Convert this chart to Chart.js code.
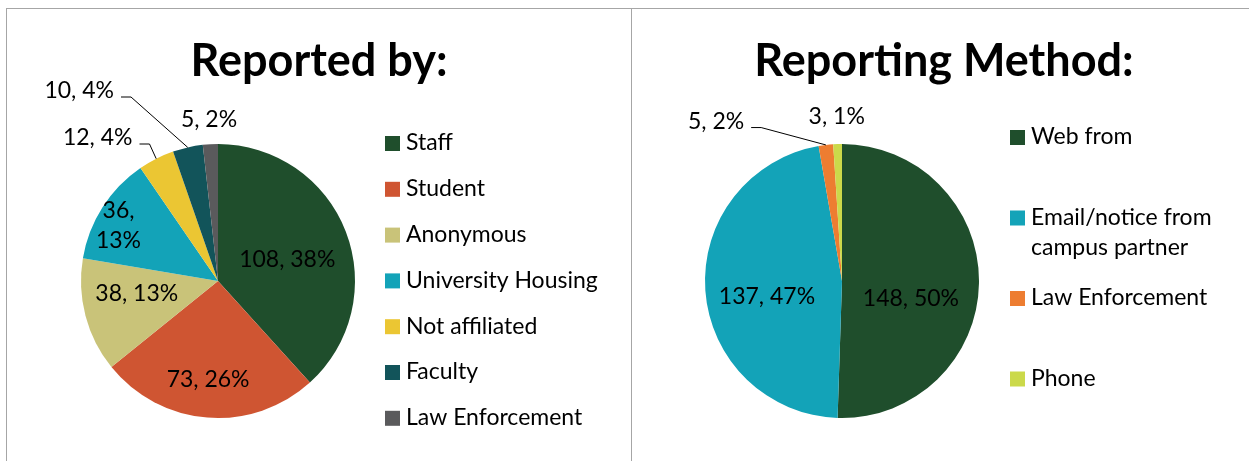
<!DOCTYPE html>
<html>
<head>
<meta charset="utf-8">
<script src="https://cdn.jsdelivr.net/npm/chart.js@4"></script>
<style>
  body { margin: 0; background: #fff; width: 1249px; height: 461px; overflow: hidden; position: relative; }
  .box { position: absolute; top: 8px; height: 453px; border-top: 1px solid #a6a6a6; border-left: 1px solid #a6a6a6; box-sizing: border-box; }
  #leftBox { left: 6px; width: 625px; }
  #rightBox { left: 631px; width: 618px; }
  canvas { display: block; }
</style>
</head>
<body>
<div class="box" id="leftBox"><canvas id="reportedBy" width="624" height="452"></canvas></div>
<div class="box" id="rightBox"><canvas id="reportMethod" width="617" height="452"></canvas></div>
<script>
// data
var byLabels = ["Staff", "Student", "Anonymous", "University Housing", "Not affiliated", "Faculty", "Law Enforcement"];
var byValues = [108, 73, 38, 36, 12, 10, 5];
var byPercents = ["38%", "26%", "13%", "13%", "4%", "4%", "2%"];
var byColors = ["#1f4e2c", "#cf5532", "#c9c379", "#13a3b8", "#ebc633", "#12545a", "#5a5a5c"];

var methodLabels = ["Web from", "Email/notice from\ncampus partner", "Law Enforcement", "Phone"];
var methodValues = [148, 137, 5, 3];
var methodPercents = ["50%", "47%", "2%", "1%"];
var methodColors = ["#1f4e2c", "#13a3b8", "#ed7d31", "#cbd94a"];

var FONT = "Lato, 'Open Sans', sans-serif";

// where each data label goes: r = fraction of radius along the slice mid angle (da = angle tweak),
// leader = elbow point in radius units from the centre
var byPlace = [
    { r: 0.53, da: 3.6 },
    { r: 0.72, da: 1.3 },
    { r: 0.60, da: 6 },
    { r: 0.83, da: -3.6, wrap: true },
    { leader: [-0.50, -1.00] },
    { leader: [-0.635, -1.343] },
    { r: 1.18, da: 0 }
];
var methodPlace = [
    { r: 0.52, da: 13.7 },
    { r: 0.56, da: -8 },
    { leader: [-0.59, -1.12] },
    { r: 1.2, da: 0 }
];

var extras = {
    id: "extras",
    afterDraw: function (chart) {
        var o = chart.options.plugins.extras;
        var ctx = chart.ctx;
        var arcs = chart.getDatasetMeta(0).data;
        var ds = chart.data.datasets[0];
        ctx.save();

        // title
        ctx.fillStyle = "#000";
        ctx.font = "bold 45px " + FONT;
        ctx.textAlign = "center";
        ctx.textBaseline = "middle";
        ctx.fillText(o.title, 312, 52);

        // data labels
        ctx.font = "23px " + FONT;
        arcs.forEach(function (arc, i) {
            var p = o.place[i];
            var cx = arc.x, cy = arc.y, R = arc.outerRadius;
            var mid = (arc.startAngle + arc.endAngle) / 2;
            var txt = ds.data[i] + ", " + o.percents[i];
            ctx.fillStyle = "#000";
            if (p.leader) {
                var ex = cx + p.leader[0] * R, ey = cy + p.leader[1] * R;
                var ax = cx + Math.cos(mid) * R, ay = cy + Math.sin(mid) * R;
                ctx.strokeStyle = "#000";
                ctx.lineWidth = 1;
                ctx.beginPath();
                ctx.moveTo(ex - 10, ey);
                ctx.lineTo(ex, ey);
                ctx.lineTo(ax, ay);
                ctx.stroke();
                ctx.textAlign = "right";
                ctx.fillText(txt, ex - 17, ey - 6);
            } else {
                var a = mid + p.da * Math.PI / 180;
                var x = cx + Math.cos(a) * R * p.r, y = cy + Math.sin(a) * R * p.r;
                ctx.textAlign = "center";
                if (p.wrap) {
                    ctx.fillText(ds.data[i] + ",", x, y - 15);
                    ctx.fillText(o.percents[i], x, y + 15);
                } else {
                    ctx.fillText(txt, x, y);
                }
            }
        });

        // legend
        ctx.textAlign = "left";
        ctx.font = "23px " + FONT;
        var y = o.legendTop;
        chart.data.labels.forEach(function (lab, i) {
            var lines = lab.split("\n");
            ctx.fillStyle = ds.backgroundColor[i];
            ctx.fillRect(378, y - 7, 15, 15);
            ctx.fillStyle = "#000";
            lines.forEach(function (ln, k) {
                ctx.fillText(ln, 399, y + k * 30);
            });
            y += o.legendStep;
        });
        ctx.restore();
    }
};

function makePie(id, labels, values, colors, percents, place, title, legendTop, legendStep, pad) {
    return new Chart(id, {
        type: "pie",
        data: {
            labels: labels,
            datasets: [{
                data: values,
                backgroundColor: colors,
                borderWidth: 0
            }]
        },
        options: {
            responsive: false,
            animation: false,
            layout: { padding: pad },
            plugins: {
                legend: { display: false },
                tooltip: { enabled: false },
                extras: {
                    title: title,
                    percents: percents,
                    place: place,
                    legendTop: legendTop,
                    legendStep: legendStep
                }
            }
        },
        plugins: [extras]
    });
}

makePie("reportedBy", byLabels, byValues, byColors, byPercents, byPlace,
    "Reported by:", 134, 45.8, { left: 74, top: 135, right: 276, bottom: 43 });
makePie("reportMethod", methodLabels, methodValues, methodColors, methodPercents, methodPlace,
    "Reporting Method:", 128, 80.5, { left: 73, top: 135, right: 270, bottom: 43 });
</script>
</body>
</html>
